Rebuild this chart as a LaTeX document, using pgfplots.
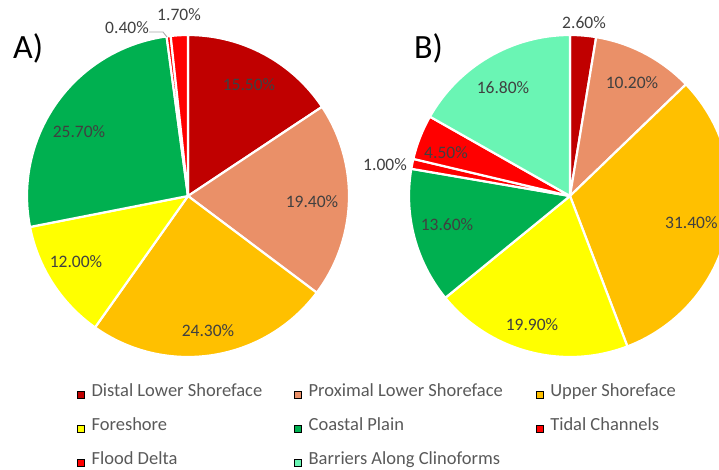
\documentclass[border=0pt]{standalone}
\usepackage{pgfplots}
\pgfplotsset{compat=1.18}
\usepackage{pgfplotstable}
\usepackage{fontspec}
\setmainfont{Carlito}

\definecolor{cDistal}{HTML}{C00000}
\definecolor{cProx}{HTML}{EA9068}
\definecolor{cUpper}{HTML}{FFC000}
\definecolor{cFore}{HTML}{FFFF00}
\definecolor{cCoast}{HTML}{00B050}
\definecolor{cTidal}{HTML}{FF0000}
\definecolor{cFlood}{HTML}{FF0000}
\definecolor{cBarr}{HTML}{6AF5B4}
\definecolor{lbl}{HTML}{404040}
\definecolor{legtxt}{HTML}{595959}

% Pie A (Barriers Along Clinoforms not present)
\pgfplotstableread{
name value col
Distal 15.5 cDistal
Proximal 19.4 cProx
Upper 24.3 cUpper
Foreshore 12.0 cFore
Coastal 25.7 cCoast
Tidal 0.4 cTidal
Flood 1.7 cFlood
}\tabA

% Pie B
\pgfplotstableread{
name value col
Distal 2.6 cDistal
Proximal 10.2 cProx
Upper 31.4 cUpper
Foreshore 19.9 cFore
Coastal 13.6 cCoast
Tidal 1.0 cTidal
Flood 4.5 cFlood
Barriers 16.8 cBarr
}\tabB

\newcommand\drawpie[4]{%
  \gdef\pietot{0}%
  \pgfplotstableforeachcolumnelement{value}\of#1\as\v{%
    \pgfmathsetmacro\t{\pietot+\v}\xdef\pietot{\t}}%
  \gdef\piecum{0}%
  \pgfplotstableforeachcolumnelement{value}\of#1\as\v{%
    \pgfplotstablegetelem{\pgfplotstablerow}{col}\of#1%
    \edef\slicecol{\pgfplotsretval}%
    \pgfmathsetmacro\sa{90-3.6*(100*\piecum/\pietot)}%
    \pgfmathsetmacro\sb{90-3.6*(100*(\piecum+\v)/\pietot)}%
    \fill[\slicecol, draw=white, line width=2.2pt, line join=round]
      (axis cs:#2,#3) -- ++(\sa:#4pt) arc[start angle=\sa, end angle=\sb, radius=#4pt] -- cycle;
    \pgfmathsetmacro\t{\piecum+\v}\xdef\piecum{\t}}%
}

\pgfplotsset{sqleg/.style={legend image code/.code={\fill[##1] (0pt,-3.5pt) rectangle (7pt,3.5pt);}}}

\begin{document}
\begin{tikzpicture}
\begin{axis}[
  x=1pt, y=1pt,
  xmin=0, xmax=719, ymin=0, ymax=469,
  hide axis,
  clip=true,
  legend columns=3,
  legend cell align=left,
  legend style={draw=none, fill=none, inner sep=0pt,
    at={(77/719,82/469)}, anchor=north west,
    font=\fontsize{18.5}{20}\selectfont, text=legtxt,
    nodes={inner sep=2pt, text height=0.75em, text depth=0.25em},
    row sep=20pt, column sep=5pt,
    /tikz/column 2/.style={column sep=30pt},
    /tikz/column 4/.style={column sep=31pt}},
]
\addlegendimage{sqleg, fill=cDistal}
\addlegendentry{Distal Lower Shoreface}
\addlegendimage{sqleg, fill=cProx}
\addlegendentry{Proximal Lower Shoreface}
\addlegendimage{sqleg, fill=cUpper}
\addlegendentry{Upper Shoreface}
\addlegendimage{sqleg, fill=cFore}
\addlegendentry{Foreshore}
\addlegendimage{sqleg, fill=cCoast}
\addlegendentry{Coastal Plain}
\addlegendimage{sqleg, fill=cTidal}
\addlegendentry{Tidal Channels}
\addlegendimage{sqleg, fill=cFlood}
\addlegendentry{Flood Delta}
\addlegendimage{sqleg, fill=cBarr}
\addlegendentry{Barriers Along Clinoforms}

\pgfplotsextra{\drawpie{\tabA}{188}{273}{161}}
\pgfplotsextra{\drawpie{\tabB}{570}{273}{161}}

% leader line for 0.40%
\draw[gray!70, line width=0.8pt] (axis cs:149,437) -- (axis cs:163,437) -- (axis cs:167,432);

\begin{scope}[every node/.style={font=\fontsize{17.5}{19}\selectfont, text=lbl, inner sep=0pt}]
\node at (axis cs:249,384) {15.50\%};
\node at (axis cs:312,267) {19.40\%};
\node at (axis cs:208,138) {24.30\%};
\node at (axis cs:76,207) {12.00\%};
\node at (axis cs:79,337) {25.70\%};
\node at (axis cs:127,441) {0.40\%};
\node at (axis cs:179,454) {1.70\%};
\node at (axis cs:584,446) {2.60\%};
\node at (axis cs:632,386) {10.20\%};
\node[anchor=west] at (axis cs:665,246) {31.40\%};
\node at (axis cs:532,144) {19.90\%};
\node at (axis cs:447,244) {13.60\%};
\node at (axis cs:385,304) {1.00\%};
\node at (axis cs:446,316) {4.50\%};
\node at (axis cs:503,381) {16.80\%};
\end{scope}
\node[anchor=west, inner sep=0pt, font=\fontsize{34}{36}\selectfont] at (axis cs:13,421) {A)};
\node[anchor=west, inner sep=0pt, font=\fontsize{34}{36}\selectfont] at (axis cs:414,421) {B)};
\end{axis}
\pgfresetboundingbox
\path (current axis.south west) rectangle (current axis.north east);
\end{tikzpicture}
\end{document}
